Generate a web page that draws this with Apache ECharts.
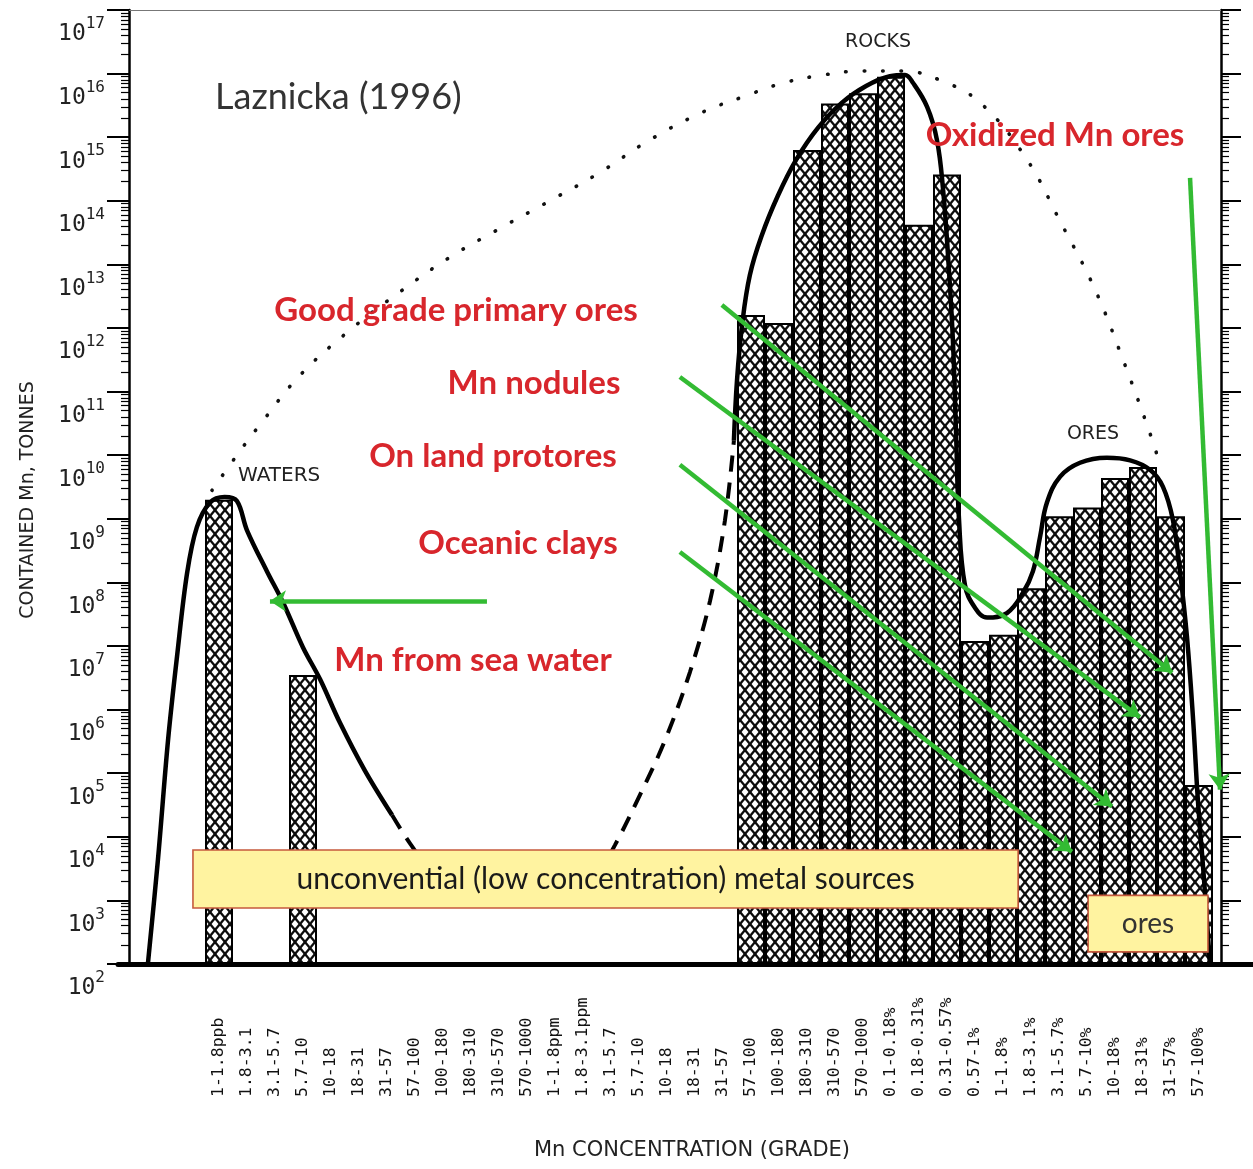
<!DOCTYPE html>
<html>
<head>
<meta charset="utf-8">
<title>Contained Mn by grade</title>
<script src="https://cdn.jsdelivr.net/npm/echarts@6/dist/echarts.min.js"></script>
<style>
  html, body { margin: 0; padding: 0; background: #fff; }
  #chart { width: 1253px; height: 1169px; }
</style>
</head>
<body>
<div id="chart"></div>
<script>
// Mn concentration (grade) classes along the horizontal axis
const grades = [
  '1-1.8ppb', '1.8-3.1', '3.1-5.7', '5.7-10', '10-18', '18-31', '31-57', '57-100',
  '100-180', '180-310', '310-570', '570-1000',
  '1-1.8ppm', '1.8-3.1ppm', '3.1-5.7', '5.7-10', '10-18', '18-31', '31-57', '57-100',
  '100-180', '180-310', '310-570', '570-1000',
  '0.1-0.18%', '0.18-0.31%', '0.31-0.57%', '0.57-1%', '1-1.8%', '1.8-3.1%', '3.1-5.7%',
  '5.7-10%', '10-18%', '18-31%', '31-57%', '57-100%'
];

// Contained Mn in each grade class, tonnes (null: no bar)
const tonnes = [
  2.0e9, null, null, 3.5e6,
  null, null, null, null, null, null, null, null, null, null, null, null, null, null, null,
  1.6e12, 1.2e12, 6.3e14, 3.4e15, 4.9e15, 8.9e15, 4.2e13, 2.6e14,
  1.2e7, 1.5e7, 8.1e7, 1.1e9, 1.5e9, 4.4e9, 6.5e9, 1.1e9, 6.5e4
];

// Smoothed envelopes, [grade class index, tonnes]
const watersCurve = [
  [-2.54, 1e2], [-2.18, 4.4e3], [-1.82, 3.3e5], [-1.5, 6.8e6], [-1.14, 1.4e8],
  [-0.79, 7.4e8], [-0.32, 1.8e9], [0.2, 2.2e9], [0.64, 1.9e9], [1.0, 6.6e8],
  [1.71, 1.5e8], [2.29, 4.8e7], [3.0, 9.5e6], [3.61, 3.0e6], [4.32, 6.2e5],
  [5.21, 1.1e5], [6.18, 2.2e4]
];
const lowGradeGap = [
  [6.18, 2.2e4], [6.82, 7.9e3], [7.54, 3.2e3], [8.96, 1.3e3], [10.75, 9.3e2],
  [12.54, 1.4e3], [13.61, 3.2e3], [14.14, 7.4e3], [15.04, 4.6e4], [15.93, 3.3e5],
  [16.82, 3.9e6], [17.54, 5.2e7], [18.07, 9.5e8], [18.39, 1.7e10]
];
const rocksOresCurve = [
  [18.39, 1.7e10], [18.5, 1.5e11], [18.68, 1.1e12], [18.96, 6.8e12], [19.39, 2.9e13],
  [19.96, 1.2e14], [20.61, 4.4e14], [21.39, 1.4e15], [22.25, 3.5e15], [23.11, 6.4e15],
  [23.96, 9.1e15], [24.5, 9.5e15], [24.79, 7.1e15], [25.29, 3.0e15], [25.64, 9.1e14],
  [25.86, 1.5e14], [26.04, 1.3e13], [26.21, 6.5e11], [26.32, 2.5e10], [26.43, 9.5e8],
  [26.64, 9.1e7], [27.0, 4.0e7], [27.43, 2.8e7], [28.14, 3.3e7], [28.71, 6.8e7],
  [29.07, 1.5e8], [29.32, 5.1e8], [29.57, 1.8e9], [30.04, 4.6e9], [30.75, 7.6e9],
  [31.71, 9.1e9], [32.54, 8.3e9], [33.25, 5.9e9], [33.71, 3.2e9], [34.07, 9.5e8],
  [34.32, 1.5e8], [34.57, 1.4e7], [34.79, 6.9e5], [34.96, 3.8e4], [35.18, 2.1e3],
  [35.39, 1e2]
];
const totalEnvelope = [
  [-0.25, 2.8e9], [0.64, 1.0e10], [1.46, 3.0e10], [2.89, 1.8e11], [4.68, 9.3e11],
  [6.46, 3.7e12], [8.25, 1.3e13], [10.04, 3.7e13], [11.82, 1.0e14], [13.61, 2.8e14],
  [15.39, 9.1e14], [17.29, 2.5e15], [18.71, 4.3e15], [20.14, 7.1e15], [21.57, 9.5e15],
  [23.0, 1.1e16], [24.43, 1.1e16], [25.75, 7.9e15], [27.18, 3.5e15], [28.82, 4.7e14],
  [30.07, 4.5e13], [31.29, 4.0e12], [32.36, 2.6e11], [33.25, 2.2e10], [33.61, 7.1e9]
];

// Pointer arrows, [from, to] in [grade class index, tonnes]
const seaWaterArrow = [[9.57, 5.1e7], [1.82, 5.1e7]];
const goodGradeArrow = [[17.96, 2.3e12], [34.04, 3.8e6]];
const nodulesArrow = [[16.46, 1.7e11], [32.89, 7.6e5]];
const protoresArrow = [[16.46, 7.1e9], [31.89, 3.0e4]];
const claysArrow = [[16.46, 3.0e8], [30.46, 5.8e3]];
const oxidizedArrow = [[34.68, 2.3e14], [35.75, 5.5e4]];

// Shaded note boxes, corners in [grade class index, tonnes]
const unconventionalBox = [[-0.93, 6.2e3], [28.54, 7.6e2]];
const oresBox = [[31.04, 1.2e3], [35.32, 1.55e2]];

// Vertical range, tonnes
const yMin = 1e2, yMax = 1e17;

const decades = [];
for (let e = 2; e <= 17; e++) decades.push(Math.pow(10, e));
const minorValues = [];
for (let e = 2; e < 17; e++) for (let m = 2; m <= 9; m++) minorValues.push(m * Math.pow(10, e));

// Frame and bar layout (pixels)
const W = 1253, H = 1169;
const frameLeft = 129, frameRight = 1221, plotTop = 10, plotBottom = 964;
const barsLeft = 205, barsRight = 1213;
const band = (barsRight - barsLeft) / grades.length;
const xMinFrame = -0.5 - (barsLeft - frameLeft) / band;
const xMaxFrame = grades.length - 0.5 + (frameRight - barsRight) / band;

// Cross-hatch fill for the bars
function makeHatch() {
  const w = 10, h = 12;
  const c = document.createElement('canvas');
  c.width = w; c.height = h;
  const g = c.getContext('2d');
  g.fillStyle = '#ffffff';
  g.fillRect(0, 0, w, h);
  g.strokeStyle = '#0d0d0d';
  g.lineWidth = 2.4;
  for (let k = -1; k <= 1; k++) {
    g.beginPath(); g.moveTo(k * w, 0); g.lineTo(k * w + w, h); g.stroke();
    g.beginPath(); g.moveTo(k * w + w, 0); g.lineTo(k * w, h); g.stroke();
  }
  return c;
}
const hatch = makeHatch();

const mono = '"DejaVu Sans Mono", "Liberation Mono", monospace';
const typed = '"DejaVu Sans", "Liberation Sans", sans-serif';
const humanist = 'Lato, "Open Sans", "Noto Sans", sans-serif';
const red = '#d8262c';
const green = '#33bb33';

function logAxis(extra) {
  return Object.assign({
    type: 'log', logBase: 10, min: yMin, max: yMax,
    splitLine: { show: false }
  }, extra);
}

const chart = echarts.init(document.getElementById('chart'), null, { width: W, height: H });

const option = {
  backgroundColor: '#ffffff',
  animation: false,
  grid: [
    { left: frameLeft, right: W - frameRight, top: plotTop, bottom: H - plotBottom },
    { left: barsLeft, right: W - barsRight, top: plotTop, bottom: H - plotBottom },
    { left: 118, right: 0, top: plotTop, bottom: H - plotBottom }
  ],
  xAxis: [
    {
      gridIndex: 0, type: 'value', position: 'top', min: xMinFrame, max: xMaxFrame,
      axisLine: { show: true, onZero: false, lineStyle: { color: '#777', width: 1.2 } },
      axisTick: { show: false }, axisLabel: { show: false }, splitLine: { show: false }
    },
    {
      gridIndex: 1, type: 'category', data: grades, position: 'bottom',
      axisLine: { show: false }, axisTick: { show: false }, splitLine: { show: false },
      axisLabel: {
        interval: 0, rotate: 90, align: 'left', verticalAlign: 'middle', margin: 133,
        fontFamily: mono, fontSize: 16.5, color: '#111'
      },
      name: 'Mn CONCENTRATION (GRADE)', nameLocation: 'middle', nameGap: 176,
      nameTextStyle: { fontFamily: typed, fontSize: 21, color: '#222', verticalAlign: 'top', padding: [0, 34, 0, 0] }
    },
    {
      gridIndex: 2, type: 'value', min: 0, max: 1, position: 'bottom',
      axisLine: { show: true, onZero: false, lineStyle: { color: '#000', width: 5 } },
      axisTick: { show: false }, axisLabel: { show: false }, splitLine: { show: false }
    }
  ],
  yAxis: [
    logAxis({
      gridIndex: 0, position: 'left',
      axisLine: { show: true, onZero: false, lineStyle: { color: '#000', width: 2.5 } },
      axisTick: { show: true, length: 22, customValues: decades, lineStyle: { color: '#000', width: 2 } },
      axisLabel: {
        show: true, customValues: decades, margin: 24, verticalAlign: 'top', padding: [6, 0, 0, 0],
        formatter: function (v) {
          const e = v >= 100 ? Math.round(Math.log10(v)) : Math.round(v);
          return '{b|10}{s|' + e + '}';
        },
        rich: {
          b: { fontFamily: mono, fontSize: 23, color: '#222', verticalAlign: 'bottom', lineHeight: 30 },
          s: { fontFamily: mono, fontSize: 16, color: '#222', verticalAlign: 'top', lineHeight: 30 }
        }
      },
      name: 'CONTAINED Mn, TONNES', nameLocation: 'middle', nameGap: 91, nameRotate: 90,
      nameTextStyle: { fontFamily: typed, fontSize: 19, color: '#222', padding: [0, 26, 0, 0] }
    }),
    logAxis({
      gridIndex: 0, position: 'right',
      axisLine: { show: true, onZero: false, lineStyle: { color: '#000', width: 2.5 } },
      axisTick: { show: true, length: 20, customValues: decades, lineStyle: { color: '#000', width: 2 } },
      axisLabel: { show: false }
    }),
    logAxis({ gridIndex: 1, show: false, startValue: yMin }),
    { gridIndex: 2, type: 'value', show: false, min: 0, max: 1 },
    logAxis({
      gridIndex: 0, position: 'left',
      axisLine: { show: false, onZero: false },
      axisTick: { show: true, length: 8, customValues: minorValues, lineStyle: { color: '#000', width: 1.2 } },
      axisLabel: { show: false }
    }),
    logAxis({
      gridIndex: 0, position: 'right',
      axisLine: { show: false, onZero: false },
      axisTick: { show: true, length: 8, customValues: minorValues, lineStyle: { color: '#000', width: 1.2 } },
      axisLabel: { show: false }
    })
  ],
  series: [
    {
      name: 'Contained Mn', type: 'bar', xAxisIndex: 1, yAxisIndex: 2,
      data: tonnes, barWidth: '100%', barGap: '0%', z: 2,
      itemStyle: { color: { image: hatch, repeat: 'repeat' }, borderColor: '#000', borderWidth: 2 }
    },
    {
      name: 'Waters', type: 'line', xAxisIndex: 0, yAxisIndex: 0, data: watersCurve,
      smooth: 0.35, symbol: 'none', z: 4,
      lineStyle: { color: '#000', width: 4.5 }
    },
    {
      name: 'Low grade gap', type: 'line', xAxisIndex: 0, yAxisIndex: 0, data: lowGradeGap,
      smooth: 0.35, symbol: 'none', z: 4,
      lineStyle: { color: '#000', width: 4, type: [16, 11] }
    },
    {
      name: 'Rocks and ores', type: 'line', xAxisIndex: 0, yAxisIndex: 0, data: rocksOresCurve,
      smooth: 0.4, symbol: 'none', z: 4,
      lineStyle: { color: '#000', width: 4.5 }
    },
    {
      name: 'Total', type: 'line', xAxisIndex: 0, yAxisIndex: 0, data: totalEnvelope,
      smooth: 0.4, symbol: 'none', z: 3,
      lineStyle: { color: '#111', width: 3.6, type: [0.5, 18], cap: 'round' }
    },
    {
      name: 'Notes', type: 'line', xAxisIndex: 0, yAxisIndex: 0, data: [], z: 8, silent: true,
      markArea: {
        z: 8, silent: true,
        itemStyle: { color: '#fff3a0', borderColor: '#c65a3c', borderWidth: 1.6 },
        label: { show: true, position: 'inside', fontFamily: humanist, fontSize: 30, color: '#1a1a1a' },
        data: [
          [{ name: 'unconvential (low concentration) metal sources', coord: unconventionalBox[0] },
           { coord: unconventionalBox[1] }],
          [{ name: 'ores', coord: oresBox[0], label: { fontSize: 28, color: '#333' } },
           { coord: oresBox[1] }]
        ]
      }
    },
    {
      name: 'Pointers', type: 'lines', coordinateSystem: 'cartesian2d', xAxisIndex: 0, yAxisIndex: 0,
      z: 10, clip: false, silent: true,
      symbol: ['none', 'arrow'], symbolSize: 16,
      lineStyle: { color: green, width: 4.5, opacity: 1, curveness: 0 },
      data: [seaWaterArrow, goodGradeArrow, nodulesArrow, protoresArrow, claysArrow, oxidizedArrow]
        .map(function (a) { return { coords: a }; })
    }
  ],
  graphic: [
    { type: 'text', x: 215, y: 97, z: 20, style: { text: 'Laznicka (1996)', font: '36px ' + humanist, fill: '#333', verticalAlign: 'middle' } },
    { type: 'text', x: 878, y: 42, z: 20, style: { text: 'ROCKS', font: '19px ' + typed, fill: '#222', align: 'center', verticalAlign: 'middle' } },
    { type: 'text', x: 238, y: 476, z: 20, style: { text: 'WATERS', font: '20px ' + typed, fill: '#222', verticalAlign: 'middle' } },
    { type: 'text', x: 1093, y: 434, z: 20, style: { text: 'ORES', font: '19px ' + typed, fill: '#222', align: 'center', verticalAlign: 'middle' } },
    { type: 'text', x: 1055, y: 135, z: 30, style: { text: 'Oxidized Mn ores', font: 'bold 33px ' + humanist, fill: red, align: 'center', verticalAlign: 'middle' } },
    { type: 'text', x: 456, y: 310, z: 30, style: { text: 'Good grade primary ores', font: 'bold 33px ' + humanist, fill: red, align: 'center', verticalAlign: 'middle' } },
    { type: 'text', x: 534, y: 383, z: 30, style: { text: 'Mn nodules', font: 'bold 33px ' + humanist, fill: red, align: 'center', verticalAlign: 'middle' } },
    { type: 'text', x: 493, y: 456, z: 30, style: { text: 'On land protores', font: 'bold 33px ' + humanist, fill: red, align: 'center', verticalAlign: 'middle' } },
    { type: 'text', x: 518, y: 543, z: 30, style: { text: 'Oceanic clays', font: 'bold 33px ' + humanist, fill: red, align: 'center', verticalAlign: 'middle' } },
    { type: 'text', x: 473, y: 660, z: 30, style: { text: 'Mn from sea water', font: 'bold 33px ' + humanist, fill: red, align: 'center', verticalAlign: 'middle' } }
  ]
};

chart.setOption(option);
</script>
</body>
</html>
